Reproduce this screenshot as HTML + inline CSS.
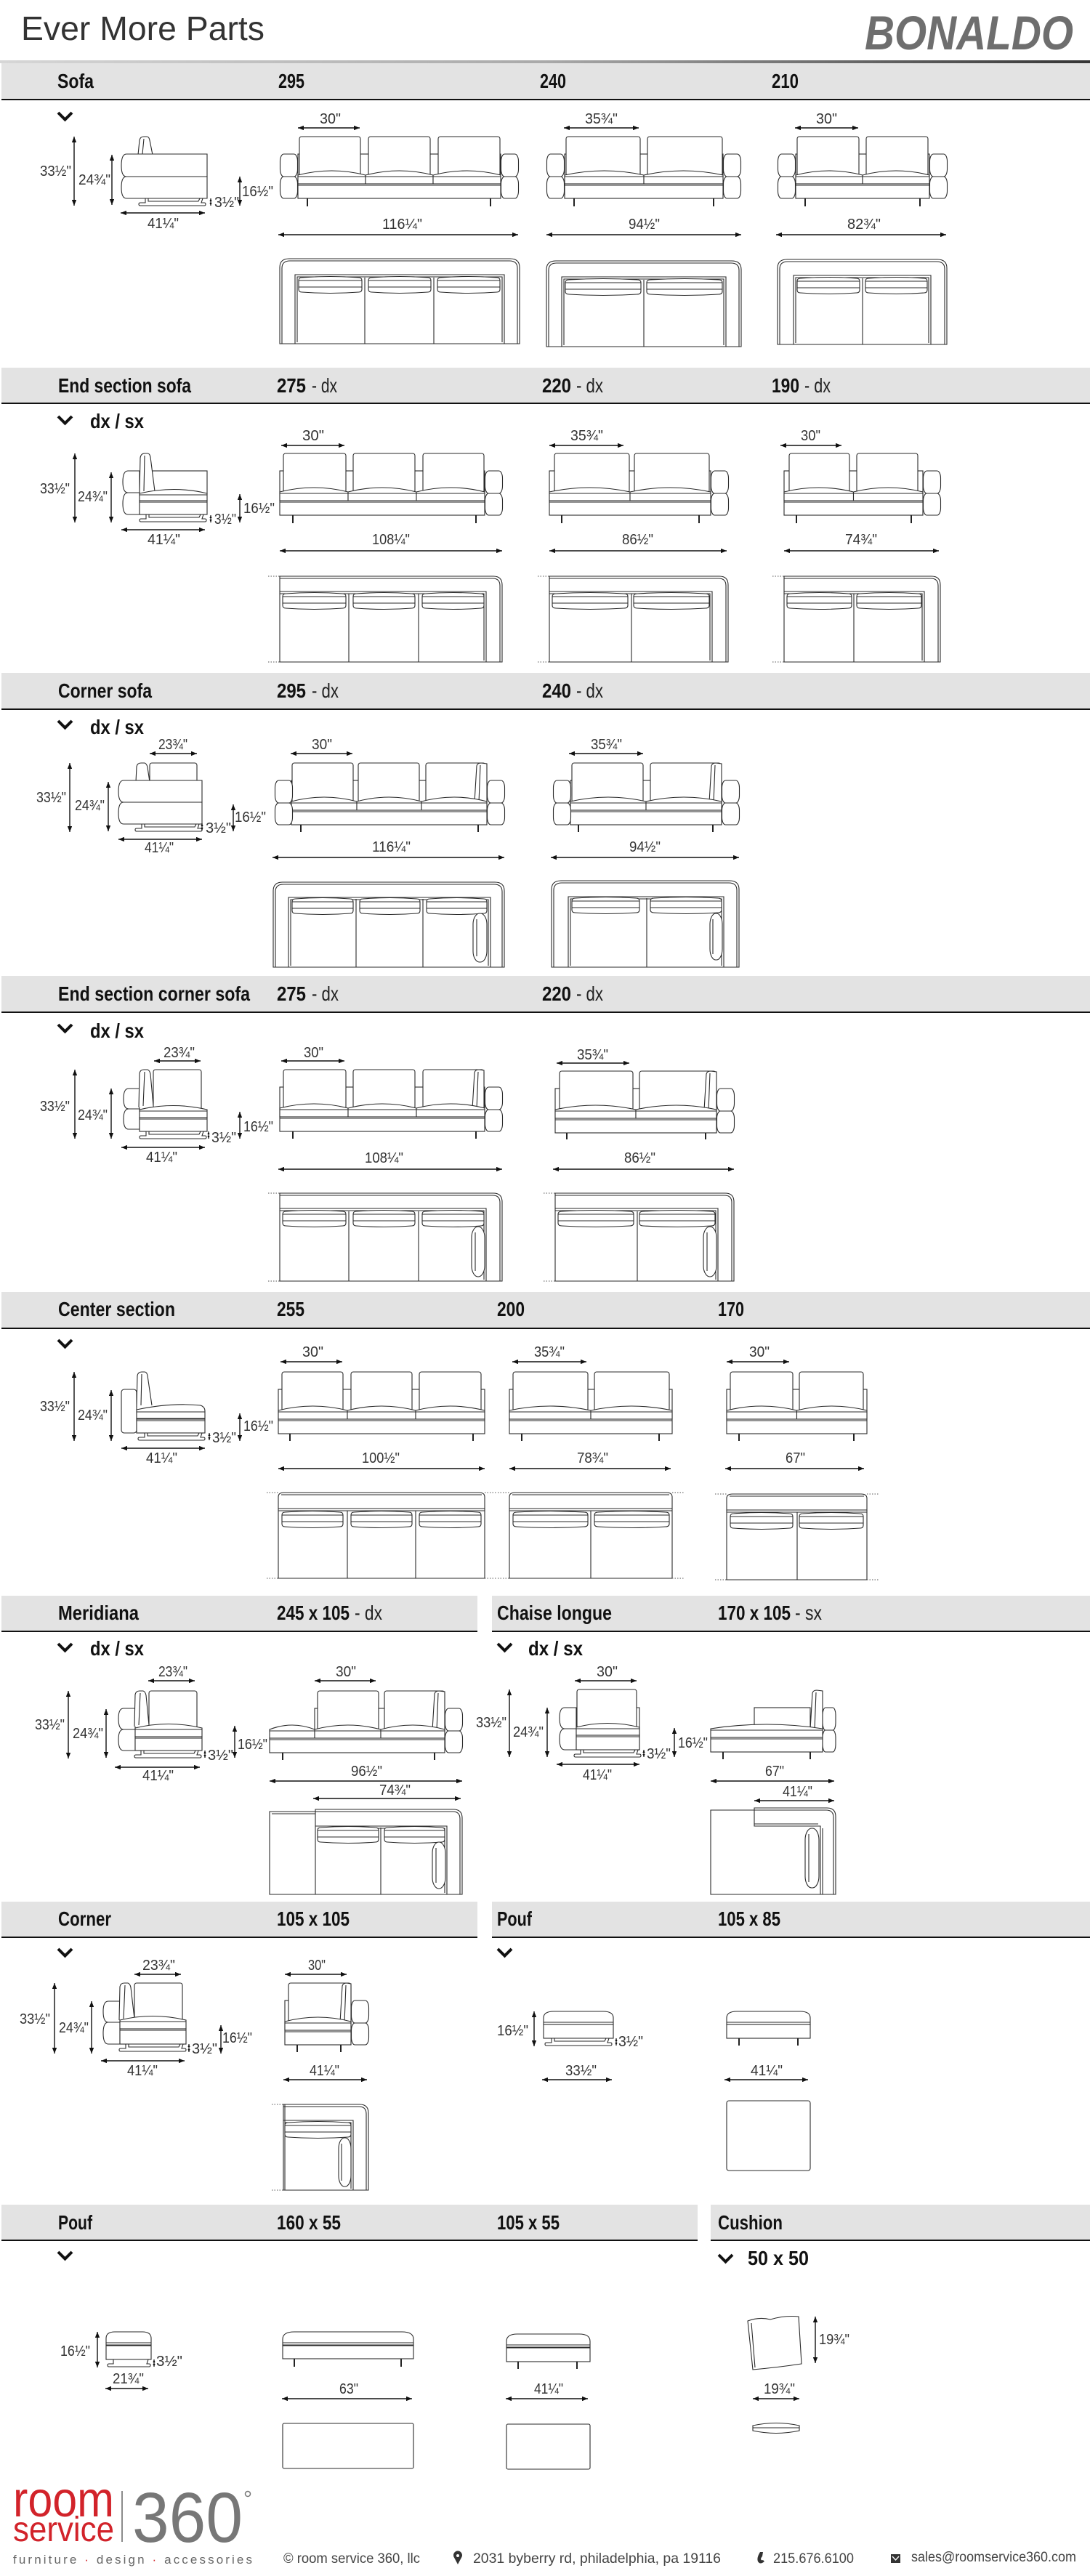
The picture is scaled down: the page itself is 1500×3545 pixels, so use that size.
<!DOCTYPE html>
<html><head><meta charset="utf-8"><style>
html,body{margin:0;padding:0;background:#fff}
svg{display:block}
.l{fill:none;stroke:#2a2a2a;stroke-width:1.1}
.w{fill:#fff;stroke:#2a2a2a;stroke-width:1.1}
.k{fill:none;stroke:#222;stroke-width:2}
.d{fill:none;stroke:#111;stroke-width:1.4;marker-start:url(#ah);marker-end:url(#ah)}
.ds{fill:none;stroke:#111;stroke-width:1.2;marker-start:url(#as);marker-end:url(#as)}
.dt{fill:none;stroke:#555;stroke-width:1;stroke-dasharray:1.5 2}
.t{font-family:"Liberation Sans Narrow","Liberation Sans",sans-serif;font-size:20px;fill:#333}
.hb{font-family:"Liberation Sans",sans-serif;font-weight:bold;font-size:28px;fill:#111}
.hn{font-family:"Liberation Sans Narrow","Liberation Sans",sans-serif;font-size:28px;fill:#222}
.bar{fill:#e3e3e3}
.bl{stroke:#111;stroke-width:2}
.cv{fill:none;stroke:#111;stroke-width:4}
.f{font-family:"Liberation Sans Narrow","Liberation Sans",sans-serif;font-size:19px;fill:#444}
</style></head><body>
<svg xmlns="http://www.w3.org/2000/svg" width="1500" height="3545" viewBox="0 0 1500 3545">
<defs>
<linearGradient id="gr" x1="0" x2="1" y1="0" y2="0"><stop offset="0" stop-color="#d6d6d6"/><stop offset="0.5" stop-color="#a9a9a9"/><stop offset="1" stop-color="#353535"/></linearGradient>
<marker id="ah" viewBox="0 0 10 8" refX="10" refY="4" markerWidth="8" markerHeight="6.4" orient="auto-start-reverse" markerUnits="userSpaceOnUse"><path d="M0,0 L10,4 L0,8 Z" fill="#111"/></marker>
<marker id="as" viewBox="0 0 10 8" refX="10" refY="4" markerWidth="4" markerHeight="3.5" orient="auto-start-reverse" markerUnits="userSpaceOnUse"><path d="M0,0 L10,4 L0,8 Z" fill="#111"/></marker>
<path id="seat" fill="#fff" stroke="#2a2a2a" stroke-width="1.1" vector-effect="non-scaling-stroke" d="M0,53 Q50,41 100,53 V65 H0 Z M0,55 H100"/>
<path id="cush" fill="#fff" stroke="#2a2a2a" stroke-width="1.1" vector-effect="non-scaling-stroke" d="M0,4 Q0,0 5,0 Q50,-3 95,0 Q100,0 100,4 V16 Q100,20 95,20 Q50,23 5,20 Q0,20 0,16 Z M0,13 H100 M0,4 H100"/>
<g id="arm"><rect x="0.5" y="0" width="24" height="31" rx="5" ry="10" fill="#fff" stroke="#2a2a2a" stroke-width="1.1"/><rect x="0.5" y="31" width="24" height="30" rx="5" ry="10" fill="#fff" stroke="#2a2a2a" stroke-width="1.1"/></g>
<path id="foot" fill="#fff" stroke="#2a2a2a" stroke-width="1.1" d="M9,0 V6 H2 Q0,6 0,8 Q0,10 2,10 H90 Q92,10 92,8 Q92,6 90,6 H86 L88,0 Z M13,0 V4 H82 L84,0"/>
</defs>

<!-- HEADER -->
<text x="29" y="55" font-family="Liberation Sans, sans-serif" font-size="46" fill="#333" textLength="335" lengthAdjust="spacingAndGlyphs">Ever More Parts</text>
<text x="1190" y="68" font-family="Liberation Sans, sans-serif" font-size="66" font-weight="bold" font-style="italic" fill="#6e6e6e" textLength="287" lengthAdjust="spacingAndGlyphs">BONALDO</text>
<rect x="0" y="83" width="1500" height="4" fill="url(#gr)"/>

<!-- ============ SECTION 1 SOFA ============ -->
<rect class="bar" x="2" y="87" width="1498" height="49"/><line class="bl" x1="2" y1="137" x2="1500" y2="137"/>
<text class="hb" x="79" y="121" textLength="50" lengthAdjust="spacingAndGlyphs">Sofa</text>
<text class="hb" x="383" y="121" textLength="36" lengthAdjust="spacingAndGlyphs">295</text>
<text class="hb" x="743" y="121" textLength="36" lengthAdjust="spacingAndGlyphs">240</text>
<text class="hb" x="1062" y="121" textLength="37" lengthAdjust="spacingAndGlyphs">210</text>
<path class="cv" d="M80,155 L89.5,164.5 L99,155"/>

<path class="w" d="M190,213 L192,193 Q193,188 198,188 H202 Q205,188 206,193 L210,213"/>
<path class="l" d="M196,212 L198,191"/>
<path class="w" d="M285,212 V243 H174 Q167,243 167,228 Q167,212 174,212 Z"/>
<path class="w" d="M285,243 V273 H174 Q167,273 167,258 Q167,243 174,243 Z"/>
<use href="#foot" x="191" y="273"/>

<g transform="translate(385,188)">
<rect class="w" x="25" y="24" width="279" height="40"/>
<rect class="w" x="27" y="0" width="84" height="54" rx="3"/>
<rect class="w" x="122" y="0" width="85" height="54" rx="3"/>
<rect class="w" x="218" y="0" width="85" height="54" rx="3"/>
<use href="#seat" transform="translate(25,0) scale(.93,1)"/>
<use href="#seat" transform="translate(118,0) scale(.93,1)"/>
<use href="#seat" transform="translate(211,0) scale(.93,1)"/>
<rect class="w" x="25" y="65" width="279" height="20"/><path class="l" d="M25,67H304"/>
<use href="#arm" x="0" y="24"/><use href="#arm" x="304" y="24"/>
<path class="k" d="M38,85v11M290,85v11"/>
</g>
<g transform="translate(752,188)">
<rect class="w" x="25" y="24" width="218" height="40"/>
<rect class="w" x="27" y="0" width="102" height="54" rx="3"/>
<rect class="w" x="139" y="0" width="103" height="54" rx="3"/>
<use href="#seat" transform="translate(25,0) scale(1.09,1)"/>
<use href="#seat" transform="translate(134,0) scale(1.09,1)"/>
<rect class="w" x="25" y="65" width="218" height="20"/><path class="l" d="M25,67H243"/>
<use href="#arm" x="0" y="24"/><use href="#arm" x="243" y="24"/>
<path class="k" d="M38,85v11M230,85v11"/>
</g>
<g transform="translate(1070,188)">
<rect class="w" x="25" y="24" width="184" height="40"/>
<rect class="w" x="27" y="0" width="85" height="54" rx="3"/>
<rect class="w" x="122" y="0" width="85" height="54" rx="3"/>
<use href="#seat" transform="translate(25,0) scale(.92,1)"/>
<use href="#seat" transform="translate(117,0) scale(.92,1)"/>
<rect class="w" x="25" y="65" width="184" height="20"/><path class="l" d="M25,67H209"/>
<use href="#arm" x="0" y="24"/><use href="#arm" x="209" y="24"/>
<path class="k" d="M38,85v11M196,85v11"/>
</g>
<g transform="translate(385,355)">
<path class="w" d="M0,118 V13 Q0,1 13,1 H317 Q330,1 330,13 V118 Z"/>
<path class="l" d="M3,118 V14 Q3,4 14,4 H316 Q327,4 327,14 V118"/>
<path class="l" d="M21,118 V23 H309 V118"/><path class="l" d="M24,116 V26 H306 V116"/>
<use href="#cush" transform="translate(26,27) scale(.87,1)"/>
<use href="#cush" transform="translate(122,27) scale(.86,1)"/>
<use href="#cush" transform="translate(217,27) scale(.86,1)"/>
<path class="l" d="M117,27V118M212,27V118"/>
</g>
<g transform="translate(752,358)">
<path class="w" d="M0,119 V13 Q0,1 13,1 H255 Q268,1 268,13 V119 Z"/>
<path class="l" d="M3,119 V14 Q3,4 14,4 H254 Q265,4 265,14 V119"/>
<path class="l" d="M21,119 V23 H247 V119"/><path class="l" d="M24,117 V26 H244 V117"/>
<use href="#cush" transform="translate(26,27) scale(1.04,1)"/>
<use href="#cush" transform="translate(138,27) scale(1.04,1)"/>
<path class="l" d="M134,27V119"/>
</g>
<g transform="translate(1070,356)">
<path class="w" d="M0,118 V13 Q0,1 13,1 H220 Q233,1 233,13 V118 Z"/>
<path class="l" d="M3,118 V14 Q3,4 14,4 H219 Q230,4 230,14 V118"/>
<path class="l" d="M22,118 V23 H211 V118"/><path class="l" d="M25,116 V26 H208 V116"/>
<use href="#cush" transform="translate(27,27) scale(.86,1)"/>
<use href="#cush" transform="translate(121,27) scale(.85,1)"/>
<path class="l" d="M117,27V118"/>
</g>
<path class="d" d="M102,188V283"/><path class="d" d="M154,213V282"/><path class="d" d="M330,243V283"/><path class="ds" d="M290,273V283"/>
<path class="d" d="M166,293H282"/><path class="d" d="M410,176H495"/><path class="d" d="M383,323H713"/>
<path class="d" d="M776,176H879"/><path class="d" d="M752,323H1020"/><path class="d" d="M1094,176H1181"/><path class="d" d="M1068,323H1302"/>
<text class="t" x="55" y="242" textLength="43" lengthAdjust="spacingAndGlyphs">33½"</text>
<text class="t" x="108" y="254" textLength="44" lengthAdjust="spacingAndGlyphs">24¾"</text>
<text class="t" x="333" y="270" textLength="43" lengthAdjust="spacingAndGlyphs">16½"</text>
<text class="t" x="295" y="285" textLength="34" lengthAdjust="spacingAndGlyphs">3½"</text>
<text class="t" x="203" y="314" textLength="43" lengthAdjust="spacingAndGlyphs">41¼"</text>
<text class="t" x="440" y="170" textLength="29" lengthAdjust="spacingAndGlyphs">30"</text>
<text class="t" x="526" y="315" textLength="55" lengthAdjust="spacingAndGlyphs">116¼"</text>
<text class="t" x="805" y="170" textLength="45" lengthAdjust="spacingAndGlyphs">35¾"</text>
<text class="t" x="865" y="315" textLength="43" lengthAdjust="spacingAndGlyphs">94½"</text>
<text class="t" x="1123" y="170" textLength="29" lengthAdjust="spacingAndGlyphs">30"</text>
<text class="t" x="1166" y="315" textLength="46" lengthAdjust="spacingAndGlyphs">82¾"</text>

<!-- ============ SECTION 2 END SECTION SOFA ============ -->
<rect class="bar" x="2" y="506" width="1498" height="49"/><line class="bl" x1="2" y1="555" x2="1500" y2="555"/>
<text class="hb" x="80" y="540" textLength="183" lengthAdjust="spacingAndGlyphs">End section sofa</text>
<text class="hb" x="381" y="540" textLength="40" lengthAdjust="spacingAndGlyphs">275</text><text class="hn" x="429" y="540" textLength="35" lengthAdjust="spacingAndGlyphs">- dx</text>
<text class="hb" x="746" y="540" textLength="40" lengthAdjust="spacingAndGlyphs">220</text><text class="hn" x="793" y="540" textLength="37" lengthAdjust="spacingAndGlyphs">- dx</text>
<text class="hb" x="1062" y="540" textLength="38" lengthAdjust="spacingAndGlyphs">190</text><text class="hn" x="1107" y="540" textLength="36" lengthAdjust="spacingAndGlyphs">- dx</text>
<path class="cv" d="M80,573 L89.5,582.5 L99,573"/>
<text class="hb" x="124" y="589" font-size="27" textLength="74" lengthAdjust="spacingAndGlyphs">dx / sx</text>

<path class="w" d="M192,648 V678 H176 Q169,678 169,663 Q169,648 176,648 Z"/>
<path class="w" d="M192,678 V708 H176 Q169,708 169,693 Q169,678 176,678 Z"/>
<rect class="w" x="206" y="648" width="79" height="32"/>
<path class="w" d="M192,678 L193,630 Q194,624 199,624 H203 Q206,624 207,629 L213,676"/>
<path class="l" d="M198,676 L199,627"/>
<path class="w" d="M192,679 Q240,668 285,679 V689 H192 Z"/><path class="l" d="M192,681H285"/>
<rect class="w" x="192" y="689" width="93" height="19"/><path class="l" d="M192,691H285"/>
<use href="#foot" x="192" y="708"/>

<g transform="translate(385,624)">
<rect class="w" x="0" y="24" width="282" height="40"/>
<rect class="w" x="5" y="0" width="86" height="54" rx="3"/>
<rect class="w" x="101" y="0" width="85" height="54" rx="3"/>
<rect class="w" x="197" y="0" width="84" height="54" rx="3"/>
<use href="#seat" transform="translate(0,0) scale(.94,1)"/>
<use href="#seat" transform="translate(94,0) scale(.94,1)"/>
<use href="#seat" transform="translate(188,0) scale(.94,1)"/>
<rect class="w" x="0" y="65" width="282" height="20"/><path class="l" d="M0,67H282"/>
<use href="#arm" x="282" y="24"/>
<path class="k" d="M18,85v11M270,85v11"/>
</g>
<g transform="translate(756,624)">
<rect class="w" x="0" y="24" width="222" height="40"/>
<rect class="w" x="7" y="0" width="103" height="54" rx="3"/>
<rect class="w" x="117" y="0" width="103" height="54" rx="3"/>
<use href="#seat" transform="translate(0,0) scale(1.11,1)"/>
<use href="#seat" transform="translate(111,0) scale(1.11,1)"/>
<rect class="w" x="0" y="65" width="222" height="20"/><path class="l" d="M0,67H222"/>
<use href="#arm" x="222" y="24"/>
<path class="k" d="M17,85v11M206,85v11"/>
</g>
<g transform="translate(1079,624)">
<rect class="w" x="0" y="24" width="191" height="40"/>
<rect class="w" x="7" y="0" width="83" height="54" rx="3"/>
<rect class="w" x="100" y="0" width="84" height="54" rx="3"/>
<use href="#seat" transform="translate(0,0) scale(.955,1)"/>
<use href="#seat" transform="translate(95.5,0) scale(.955,1)"/>
<rect class="w" x="0" y="65" width="191" height="20"/><path class="l" d="M0,67H191"/>
<use href="#arm" x="191" y="24"/>
<path class="k" d="M17,85v11M175,85v11"/>
</g>
<g transform="translate(385,793)">
<path class="w" d="M0,118 V0 H294 Q306,0 306,12 V118 Z"/>
<path class="l" d="M0,3 H293 Q303,3 303,13 V118"/>
<path class="l" d="M0,21 H284 V118"/><path class="l" d="M0,24 H281 V116"/>
<use href="#cush" transform="translate(4,24) scale(.87,1)"/>
<use href="#cush" transform="translate(101,24) scale(.85,1)"/>
<use href="#cush" transform="translate(196,24) scale(.85,1)"/>
<path class="l" d="M95,24V118M191,24V118"/>
<path class="dt" d="M-16,0H0M-16,118H0"/>
</g>
<g transform="translate(756,793)">
<path class="w" d="M0,118 V0 H234 Q246,0 246,12 V118 Z"/>
<path class="l" d="M0,3 H233 Q243,3 243,13 V118"/>
<path class="l" d="M0,21 H224 V118"/><path class="l" d="M0,24 H221 V116"/>
<use href="#cush" transform="translate(4,24) scale(1.04,1)"/>
<use href="#cush" transform="translate(116,24) scale(1.04,1)"/>
<path class="l" d="M113,24V118"/>
<path class="dt" d="M-16,0H0M-16,118H0"/>
</g>
<g transform="translate(1079,793)">
<path class="w" d="M0,118 V0 H203 Q215,0 215,12 V118 Z"/>
<path class="l" d="M0,3 H202 Q212,3 212,13 V118"/>
<path class="l" d="M0,21 H193 V118"/><path class="l" d="M0,24 H190 V116"/>
<use href="#cush" transform="translate(4,24) scale(.89,1)"/>
<use href="#cush" transform="translate(100,24) scale(.89,1)"/>
<path class="l" d="M96,24V118"/>
<path class="dt" d="M-16,0H0M-16,118H0"/>
</g>
<path class="d" d="M103,624V719"/><path class="d" d="M153,650V719"/><path class="d" d="M330,680V719"/><path class="ds" d="M290,709V719"/>
<path class="d" d="M167,729H282"/><path class="d" d="M387,613H474"/><path class="d" d="M385,758H691"/>
<path class="d" d="M756,613H858"/><path class="d" d="M756,758H1000"/><path class="d" d="M1074,613H1158"/><path class="d" d="M1079,758H1292"/>
<text class="t" x="55" y="679" textLength="41" lengthAdjust="spacingAndGlyphs">33½"</text>
<text class="t" x="107" y="690" textLength="41" lengthAdjust="spacingAndGlyphs">24¾"</text>
<text class="t" x="335" y="706" textLength="43" lengthAdjust="spacingAndGlyphs">16½"</text>
<text class="t" x="295" y="721" textLength="30" lengthAdjust="spacingAndGlyphs">3½"</text>
<text class="t" x="203" y="749" textLength="45" lengthAdjust="spacingAndGlyphs">41¼"</text>
<text class="t" x="416" y="606" textLength="30" lengthAdjust="spacingAndGlyphs">30"</text>
<text class="t" x="512" y="749" textLength="52" lengthAdjust="spacingAndGlyphs">108¼"</text>
<text class="t" x="785" y="606" textLength="45" lengthAdjust="spacingAndGlyphs">35¾"</text>
<text class="t" x="856" y="749" textLength="43" lengthAdjust="spacingAndGlyphs">86½"</text>
<text class="t" x="1102" y="606" textLength="27" lengthAdjust="spacingAndGlyphs">30"</text>
<text class="t" x="1163" y="749" textLength="44" lengthAdjust="spacingAndGlyphs">74¾"</text>

<!-- ============ SECTION 3 CORNER SOFA ============ -->
<rect class="bar" x="2" y="926" width="1498" height="49"/><line class="bl" x1="2" y1="976" x2="1500" y2="976"/>
<text class="hb" x="80" y="960" textLength="129" lengthAdjust="spacingAndGlyphs">Corner sofa</text>
<text class="hb" x="381" y="960" textLength="40" lengthAdjust="spacingAndGlyphs">295</text><text class="hn" x="429" y="960" textLength="37" lengthAdjust="spacingAndGlyphs">- dx</text>
<text class="hb" x="746" y="960" textLength="40" lengthAdjust="spacingAndGlyphs">240</text><text class="hn" x="793" y="960" textLength="37" lengthAdjust="spacingAndGlyphs">- dx</text>
<path class="cv" d="M80,992 L89.5,1001.5 L99,992"/>
<text class="hb" x="124" y="1010" font-size="27" textLength="74" lengthAdjust="spacingAndGlyphs">dx / sx</text>

<path class="w" d="M187,1076 L188,1055 Q189,1050 194,1050 H199 Q202,1051 203,1056 L206,1076"/>
<rect class="w" x="206" y="1050" width="65" height="28" rx="3"/>
<path class="w" d="M278,1074 V1104 H170 Q163,1104 163,1089 Q163,1074 170,1074 Z"/>
<path class="w" d="M278,1104 V1134 H170 Q163,1134 163,1119 Q163,1104 170,1104 Z"/>
<use href="#foot" x="186" y="1134"/>

<g transform="translate(378,1050)">
<rect class="w" x="23" y="24" width="269" height="40"/>
<rect class="w" x="24" y="0" width="84" height="54" rx="3"/>
<rect class="w" x="115" y="0" width="84" height="54" rx="3"/>
<rect class="w" x="208" y="0" width="82" height="54" rx="3"/>
<path class="w" d="M275,54 L278,4 Q279,0 284,0 L292,1 V54 Z"/><path class="l" d="M281,54 L283,3"/>
<use href="#seat" transform="translate(23,0) scale(.9,1)"/>
<use href="#seat" transform="translate(113,0) scale(.89,1)"/>
<use href="#seat" transform="translate(202,0) scale(.9,1)"/>
<rect class="w" x="23" y="65" width="269" height="20"/><path class="l" d="M23,67H292"/>
<use href="#arm" x="0" y="24"/><use href="#arm" x="292" y="24"/>
<path class="k" d="M36,85v10M280,85v10"/>
</g>
<g transform="translate(761,1050)">
<rect class="w" x="24" y="24" width="208" height="40"/>
<rect class="w" x="26" y="0" width="98" height="54" rx="3"/>
<rect class="w" x="134" y="0" width="97" height="54" rx="3"/>
<path class="w" d="M215,54 L218,4 Q219,0 224,0 L232,1 V54 Z"/><path class="l" d="M221,54 L223,3"/>
<use href="#seat" transform="translate(24,0) scale(1.04,1)"/>
<use href="#seat" transform="translate(128,0) scale(1.04,1)"/>
<rect class="w" x="24" y="65" width="208" height="20"/><path class="l" d="M24,67H232"/>
<use href="#arm" x="0" y="24"/><use href="#arm" x="232" y="24"/>
<path class="k" d="M35,85v10M220,85v10"/>
</g>
<g transform="translate(376,1213)">
<path class="w" d="M0,118 V13 Q0,1 13,1 H305 Q318,1 318,13 V118 Z"/>
<path class="l" d="M3,118 V14 Q3,4 14,4 H304 Q315,4 315,14 V118"/>
<path class="l" d="M21,118 V22 H299 V118"/><path class="l" d="M24,116 V25 H296 V116"/>
<use href="#cush" transform="translate(26,24) scale(.84,1)"/>
<use href="#cush" transform="translate(119,24) scale(.83,1)"/>
<use href="#cush" transform="translate(211,24) scale(.83,1)"/>
<path class="l" d="M114,24V118M206,24V118"/>
<rect class="w" x="275" y="44" width="19" height="67" rx="9" ry="15"/><path class="l" d="M280,52V103"/>
</g>
<g transform="translate(759,1211)">
<path class="w" d="M0,120 V13 Q0,1 13,1 H245 Q258,1 258,13 V120 Z"/>
<path class="l" d="M3,120 V14 Q3,4 14,4 H244 Q255,4 255,14 V120"/>
<path class="l" d="M23,120 V23 H237 V120"/><path class="l" d="M26,118 V26 H234 V118"/>
<use href="#cush" transform="translate(28,25) scale(.93,1)"/>
<use href="#cush" transform="translate(136,25) scale(.98,1)"/>
<path class="l" d="M131,25V120"/>
<rect class="w" x="218" y="46" width="17" height="64" rx="8" ry="15"/><path class="l" d="M222,54V102"/>
</g>
<path class="d" d="M206,1037H271"/><path class="d" d="M96,1050V1145"/><path class="d" d="M149,1076V1144"/><path class="d" d="M321,1107V1144"/><path class="ds" d="M278,1133V1143"/>
<path class="d" d="M163,1155H278"/><path class="d" d="M400,1037H485"/><path class="d" d="M375,1180H694"/>
<path class="d" d="M783,1037H885"/><path class="d" d="M758,1180H1017"/>
<text class="t" x="218" y="1031" textLength="40" lengthAdjust="spacingAndGlyphs">23¾"</text>
<text class="t" x="50" y="1104" textLength="41" lengthAdjust="spacingAndGlyphs">33½"</text>
<text class="t" x="103" y="1115" textLength="41" lengthAdjust="spacingAndGlyphs">24¾"</text>
<text class="t" x="323" y="1131" textLength="43" lengthAdjust="spacingAndGlyphs">16½"</text>
<text class="t" x="283" y="1146" textLength="35" lengthAdjust="spacingAndGlyphs">3½"</text>
<text class="t" x="199" y="1173" textLength="40" lengthAdjust="spacingAndGlyphs">41¼"</text>
<text class="t" x="429" y="1031" textLength="28" lengthAdjust="spacingAndGlyphs">30"</text>
<text class="t" x="512" y="1172" textLength="53" lengthAdjust="spacingAndGlyphs">116¼"</text>
<text class="t" x="813" y="1031" textLength="43" lengthAdjust="spacingAndGlyphs">35¾"</text>
<text class="t" x="866" y="1172" textLength="43" lengthAdjust="spacingAndGlyphs">94½"</text>

<!-- ============ SECTION 4 END SECTION CORNER ============ -->
<rect class="bar" x="2" y="1343" width="1498" height="49"/><line class="bl" x1="2" y1="1393" x2="1500" y2="1393"/>
<text class="hb" x="80" y="1377" textLength="264" lengthAdjust="spacingAndGlyphs">End section corner sofa</text>
<text class="hb" x="381" y="1377" textLength="40" lengthAdjust="spacingAndGlyphs">275</text><text class="hn" x="429" y="1377" textLength="37" lengthAdjust="spacingAndGlyphs">- dx</text>
<text class="hb" x="746" y="1377" textLength="40" lengthAdjust="spacingAndGlyphs">220</text><text class="hn" x="793" y="1377" textLength="37" lengthAdjust="spacingAndGlyphs">- dx</text>
<path class="cv" d="M80,1410 L89.5,1419.5 L99,1410"/>
<text class="hb" x="124" y="1428" font-size="27" textLength="74" lengthAdjust="spacingAndGlyphs">dx / sx</text>

<path class="w" d="M192,1498 V1526 H177 Q170,1526 170,1512 Q170,1498 177,1498 Z"/>
<path class="w" d="M192,1526 V1554 H177 Q170,1554 170,1540 Q170,1526 177,1526 Z"/>
<rect class="w" x="211" y="1472" width="66" height="56" rx="3"/>
<path class="w" d="M191,1524 L192,1477 Q193,1472 198,1472 H203 Q206,1473 207,1478 L211,1522"/>
<path class="l" d="M197,1522 L199,1475"/>
<path class="w" d="M192,1527 Q238,1516 285,1527 V1538 H192 Z"/><path class="l" d="M192,1529H285"/>
<rect class="w" x="192" y="1538" width="93" height="19"/><path class="l" d="M192,1540H285"/>
<use href="#foot" x="192" y="1557"/>

<g transform="translate(385,1472)">
<rect class="w" x="0" y="24" width="282" height="40"/>
<rect class="w" x="5" y="0" width="86" height="54" rx="3"/>
<rect class="w" x="101" y="0" width="85" height="54" rx="3"/>
<rect class="w" x="197" y="0" width="84" height="54" rx="3"/>
<path class="w" d="M265,54 L268,4 Q269,0 274,0 L281,1 V54 Z"/><path class="l" d="M271,54 L273,3"/>
<use href="#seat" transform="translate(0,0) scale(.94,1)"/>
<use href="#seat" transform="translate(94,0) scale(.94,1)"/>
<use href="#seat" transform="translate(188,0) scale(.94,1)"/>
<rect class="w" x="0" y="65" width="282" height="20"/><path class="l" d="M0,67H282"/>
<use href="#arm" x="282" y="24"/>
<path class="k" d="M18,85v10M270,85v10"/>
</g>
<g transform="translate(764,1474)">
<rect class="w" x="0" y="24" width="222" height="40"/>
<rect class="w" x="6" y="0" width="101" height="54" rx="3"/>
<rect class="w" x="116" y="0" width="105" height="54" rx="3"/>
<path class="w" d="M205,54 L208,4 Q209,0 214,0 L222,1 V54 Z"/><path class="l" d="M211,54 L213,3"/>
<use href="#seat" transform="translate(0,0) scale(1.11,1)"/>
<use href="#seat" transform="translate(111,0) scale(1.11,1)"/>
<rect class="w" x="0" y="65" width="222" height="20"/><path class="l" d="M0,67H222"/>
<use href="#arm" x="222" y="24"/>
<path class="k" d="M16,85v9M207,85v9"/>
</g>
<g transform="translate(385,1642)">
<path class="w" d="M0,121 V0 H294 Q306,0 306,12 V121 Z"/>
<path class="l" d="M0,3 H293 Q303,3 303,13 V121"/>
<path class="l" d="M0,21 H284 V121"/><path class="l" d="M0,24 H281 V119"/>
<use href="#cush" transform="translate(4,25) scale(.87,1)"/>
<use href="#cush" transform="translate(101,25) scale(.85,1)"/>
<use href="#cush" transform="translate(196,25) scale(.85,1)"/>
<path class="l" d="M95,25V121M191,25V121"/>
<rect class="w" x="264" y="46" width="18" height="69" rx="9" ry="15"/><path class="l" d="M269,54V107"/>
<path class="dt" d="M-16,0H0M-16,121H0"/>
</g>
<g transform="translate(764,1642)">
<path class="w" d="M0,121 V0 H234 Q246,0 246,12 V121 Z"/>
<path class="l" d="M0,3 H233 Q243,3 243,13 V121"/>
<path class="l" d="M0,21 H224 V121"/><path class="l" d="M0,24 H221 V119"/>
<use href="#cush" transform="translate(4,25) scale(1.04,1)"/>
<use href="#cush" transform="translate(116,25) scale(1.04,1)"/>
<path class="l" d="M113,25V121"/>
<rect class="w" x="204" y="46" width="18" height="69" rx="9" ry="15"/><path class="l" d="M209,54V107"/>
<path class="dt" d="M-16,0H0M-16,121H0"/>
</g>
<path class="d" d="M212,1460H276"/><path class="d" d="M103,1472V1567"/><path class="d" d="M153,1498V1567"/><path class="d" d="M330,1530V1567"/><path class="ds" d="M287,1557V1567"/>
<path class="d" d="M167,1579H282"/><path class="d" d="M387,1460H474"/><path class="d" d="M383,1609H691"/>
<path class="d" d="M766,1463H866"/><path class="d" d="M761,1609H1010"/>
<text class="t" x="225" y="1455" textLength="43" lengthAdjust="spacingAndGlyphs">23¾"</text>
<text class="t" x="55" y="1529" textLength="41" lengthAdjust="spacingAndGlyphs">33½"</text>
<text class="t" x="107" y="1541" textLength="41" lengthAdjust="spacingAndGlyphs">24¾"</text>
<text class="t" x="335" y="1557" textLength="41" lengthAdjust="spacingAndGlyphs">16½"</text>
<text class="t" x="291" y="1572" textLength="34" lengthAdjust="spacingAndGlyphs">3½"</text>
<text class="t" x="201" y="1599" textLength="43" lengthAdjust="spacingAndGlyphs">41¼"</text>
<text class="t" x="418" y="1455" textLength="27" lengthAdjust="spacingAndGlyphs">30"</text>
<text class="t" x="502" y="1600" textLength="53" lengthAdjust="spacingAndGlyphs">108¼"</text>
<text class="t" x="794" y="1458" textLength="43" lengthAdjust="spacingAndGlyphs">35¾"</text>
<text class="t" x="859" y="1600" textLength="43" lengthAdjust="spacingAndGlyphs">86½"</text>

<!-- ============ SECTION 5 CENTER ============ -->
<rect class="bar" x="2" y="1778" width="1498" height="49"/><line class="bl" x1="2" y1="1828" x2="1500" y2="1828"/>
<text class="hb" x="80" y="1811" textLength="161" lengthAdjust="spacingAndGlyphs">Center section</text>
<text class="hb" x="381" y="1811" textLength="38" lengthAdjust="spacingAndGlyphs">255</text>
<text class="hb" x="684" y="1811" textLength="38" lengthAdjust="spacingAndGlyphs">200</text>
<text class="hb" x="988" y="1811" textLength="36" lengthAdjust="spacingAndGlyphs">170</text>
<path class="cv" d="M80,1844 L89.5,1853.5 L99,1844"/>

<rect class="w" x="167" y="1912" width="21" height="60" rx="4"/>
<path class="w" d="M188,1936 L189,1893 Q190,1888 195,1888 H199 Q202,1888 203,1893 L209,1934"/>
<path class="l" d="M194,1934 L195,1891"/>
<path class="w" d="M188,1940 Q235,1930 276,1934 Q282,1936 282,1942 V1952 H188 Z"/><path class="l" d="M188,1943H282"/>
<rect class="w" x="188" y="1953" width="94" height="19"/><path class="l" d="M188,1955H282"/>
<use href="#foot" x="190" y="1972"/>

<g transform="translate(383,1888)">
<rect class="w" x="0" y="24" width="284" height="40"/>
<rect class="w" x="5" y="0" width="84" height="54" rx="3"/>
<rect class="w" x="100" y="0" width="84" height="54" rx="3"/>
<rect class="w" x="194" y="0" width="85" height="54" rx="3"/>
<use href="#seat" transform="translate(0,0) scale(.95,1)"/>
<use href="#seat" transform="translate(95,0) scale(.94,1)"/>
<use href="#seat" transform="translate(189,0) scale(.95,1)"/>
<rect class="w" x="0" y="65" width="284" height="20"/><path class="l" d="M0,67H284"/>
<path class="k" d="M16,85v10M268,85v10"/>
</g>
<g transform="translate(701,1888)">
<rect class="w" x="0" y="24" width="224" height="40"/>
<rect class="w" x="5" y="0" width="103" height="54" rx="3"/>
<rect class="w" x="117" y="0" width="103" height="54" rx="3"/>
<use href="#seat" transform="translate(0,0) scale(1.12,1)"/>
<use href="#seat" transform="translate(112,0) scale(1.12,1)"/>
<rect class="w" x="0" y="65" width="224" height="20"/><path class="l" d="M0,67H224"/>
<path class="k" d="M17,85v10M206,85v10"/>
</g>
<g transform="translate(1000,1888)">
<rect class="w" x="0" y="24" width="193" height="40"/>
<rect class="w" x="5" y="0" width="86" height="54" rx="3"/>
<rect class="w" x="100" y="0" width="88" height="54" rx="3"/>
<use href="#seat" transform="translate(0,0) scale(.965,1)"/>
<use href="#seat" transform="translate(96.5,0) scale(.965,1)"/>
<rect class="w" x="0" y="65" width="193" height="20"/><path class="l" d="M0,67H193"/>
<path class="k" d="M17,85v10M175,85v10"/>
</g>
<g transform="translate(383,2054)">
<path class="l" d="M0,22 V118 H284 V22"/>
<path class="w" d="M0,22 V6 Q0,0 8,0 H276 Q284,0 284,6 V22 Z"/><path class="l" d="M4,3H280M0,25H284"/>
<use href="#cush" transform="translate(5,27) scale(.84,1)"/>
<use href="#cush" transform="translate(100,27) scale(.84,1)"/>
<use href="#cush" transform="translate(194,27) scale(.85,1)"/>
<path class="l" d="M95,25V118M189,25V118"/>
<path class="dt" d="M-16,0H0M284,0H300M-16,118H0M284,118H300"/>
</g>
<g transform="translate(701,2054)">
<path class="l" d="M0,22 V118 H224 V22"/>
<path class="w" d="M0,22 V6 Q0,0 8,0 H216 Q224,0 224,6 V22 Z"/><path class="l" d="M4,3H220M0,25H224"/>
<use href="#cush" transform="translate(5,27) scale(1.03,1)"/>
<use href="#cush" transform="translate(117,27) scale(1.03,1)"/>
<path class="l" d="M112,25V118"/>
<path class="dt" d="M-16,0H0M224,0H240M-16,118H0M224,118H240"/>
</g>
<g transform="translate(1000,2056)">
<path class="l" d="M0,22 V118 H193 V22"/>
<path class="w" d="M0,22 V6 Q0,0 8,0 H185 Q193,0 193,6 V22 Z"/><path class="l" d="M4,3H189M0,25H193"/>
<use href="#cush" transform="translate(5,27) scale(.86,1)"/>
<use href="#cush" transform="translate(100,27) scale(.88,1)"/>
<path class="l" d="M97,25V118"/>
<path class="dt" d="M-16,0H0M193,0H209M-16,118H0M193,118H209"/>
</g>
<path class="d" d="M102,1888V1983"/><path class="d" d="M153,1913V1983"/><path class="d" d="M330,1945V1983"/><path class="ds" d="M288,1972V1982"/>
<path class="d" d="M167,1993H282"/><path class="d" d="M386,1874H471"/><path class="d" d="M383,2021H667"/>
<path class="d" d="M705,1874H807"/><path class="d" d="M701,2021H923"/><path class="d" d="M1000,1874H1086"/><path class="d" d="M998,2021H1189"/>
<text class="t" x="55" y="1942" textLength="41" lengthAdjust="spacingAndGlyphs">33½"</text>
<text class="t" x="107" y="1954" textLength="41" lengthAdjust="spacingAndGlyphs">24¾"</text>
<text class="t" x="335" y="1969" textLength="41" lengthAdjust="spacingAndGlyphs">16½"</text>
<text class="t" x="292" y="1985" textLength="33" lengthAdjust="spacingAndGlyphs">3½"</text>
<text class="t" x="201" y="2013" textLength="43" lengthAdjust="spacingAndGlyphs">41¼"</text>
<text class="t" x="416" y="1867" textLength="29" lengthAdjust="spacingAndGlyphs">30"</text>
<text class="t" x="498" y="2013" textLength="52" lengthAdjust="spacingAndGlyphs">100½"</text>
<text class="t" x="735" y="1867" textLength="42" lengthAdjust="spacingAndGlyphs">35¾"</text>
<text class="t" x="794" y="2013" textLength="43" lengthAdjust="spacingAndGlyphs">78¾"</text>
<text class="t" x="1031" y="1867" textLength="28" lengthAdjust="spacingAndGlyphs">30"</text>
<text class="t" x="1081" y="2013" textLength="27" lengthAdjust="spacingAndGlyphs">67"</text>

<!-- ============ SECTION 6 MERIDIANA / CHAISE ============ -->
<rect class="bar" x="2" y="2196" width="655" height="49"/><line class="bl" x1="2" y1="2245" x2="657" y2="2245"/>
<rect class="bar" x="677" y="2196" width="823" height="49"/><line class="bl" x1="677" y1="2245" x2="1500" y2="2245"/>
<text class="hb" x="80" y="2229" textLength="111" lengthAdjust="spacingAndGlyphs">Meridiana</text>
<text class="hb" x="381" y="2229" textLength="100" lengthAdjust="spacingAndGlyphs">245 x 105</text><text class="hn" x="488" y="2229" textLength="38" lengthAdjust="spacingAndGlyphs">- dx</text>
<text class="hb" x="684" y="2229" textLength="158" lengthAdjust="spacingAndGlyphs">Chaise longue</text>
<text class="hb" x="988" y="2229" textLength="100" lengthAdjust="spacingAndGlyphs">170 x 105</text><text class="hn" x="1094" y="2229" textLength="37" lengthAdjust="spacingAndGlyphs">- sx</text>
<path class="cv" d="M80,2262 L89.5,2271.5 L99,2262"/>
<text class="hb" x="124" y="2278" font-size="27" textLength="74" lengthAdjust="spacingAndGlyphs">dx / sx</text>
<path class="cv" d="M685,2262 L694.5,2271.5 L704,2262"/>
<text class="hb" x="727" y="2278" font-size="27" textLength="75" lengthAdjust="spacingAndGlyphs">dx / sx</text>

<path class="w" d="M186,2351 V2380 H170 Q163,2380 163,2365 Q163,2351 170,2351 Z"/>
<path class="w" d="M186,2380 V2409 H170 Q163,2409 163,2394 Q163,2380 170,2380 Z"/>
<rect class="w" x="205" y="2327" width="66" height="52" rx="3"/>
<path class="w" d="M185,2376 L186,2332 Q187,2327 192,2327 H197 Q200,2328 201,2333 L205,2374"/>
<path class="l" d="M191,2374 L193,2330"/>
<path class="w" d="M186,2378 Q232,2367 278,2378 V2390 H186 Z"/><path class="l" d="M186,2380H278"/>
<rect class="w" x="186" y="2390" width="92" height="19"/><path class="l" d="M186,2392H278"/>
<use href="#foot" x="185" y="2409"/>
<g transform="translate(371,2327)">
<rect class="w" x="62" y="24" width="179" height="40"/>
<rect class="w" x="66" y="0" width="84" height="54" rx="3"/>
<rect class="w" x="158" y="0" width="83" height="54" rx="3"/>
<path class="w" d="M224,54 L227,4 Q228,0 233,0 L241,1 V54 Z"/><path class="l" d="M230,54 L232,3"/>
<use href="#seat" transform="translate(0,0) scale(.62,1)"/>
<use href="#seat" transform="translate(62,0) scale(.91,1)"/>
<use href="#seat" transform="translate(153,0) scale(.88,1)"/>
<rect class="w" x="0" y="65" width="241" height="20"/><path class="l" d="M0,67H241"/>
<use href="#arm" x="241" y="24"/>
<path class="k" d="M18,85v10M227,85v10"/>
</g>
<path class="w" d="M793,2350 V2379 H777 Q770,2379 770,2364 Q770,2350 777,2350 Z"/>
<path class="w" d="M793,2379 V2408 H777 Q770,2408 770,2393 Q770,2379 777,2379 Z"/>
<rect class="w" x="794" y="2325" width="82" height="53" rx="3"/>
<path class="l" d="M876,2350 H880 V2408"/>
<path class="w" d="M793,2377 Q836,2366 880,2377 V2388 H793 Z"/><path class="l" d="M793,2379H880"/>
<rect class="w" x="793" y="2388" width="87" height="20"/><path class="l" d="M793,2390H880"/>
<use href="#foot" x="790" y="2408"/>
<g transform="translate(978,2326)">
<rect class="w" x="60" y="24" width="77" height="40"/>
<path class="w" d="M137,54 L140,4 Q141,0 146,0 L154,1 V54 Z"/><path class="l" d="M143,54 L145,3"/>
<use href="#seat" transform="translate(0,0) scale(1.54,1)"/>
<rect class="w" x="0" y="65" width="154" height="20"/><path class="l" d="M0,67H154"/>
<rect class="w" x="154" y="24" width="18" height="31" rx="4" ry="10"/><rect class="w" x="154" y="55" width="18" height="30" rx="4" ry="10"/>
<path class="k" d="M17,85v10M137,85v10"/>
</g>
<g transform="translate(371,2490)">
<path class="l" d="M63,3 H0 V117 H265"/><path class="l" d="M63,6 H3"/>
<path class="w" d="M63,117 V0 H253 Q265,0 265,12 V117 Z"/>
<path class="l" d="M63,3 H252 Q262,3 262,13 V117"/>
<path class="l" d="M63,23 H244 V117"/><path class="l" d="M66,26 H241 V115"/>
<use href="#cush" transform="translate(66,25) scale(.84,1)"/>
<use href="#cush" transform="translate(158,25) scale(.83,1)"/>
<path class="l" d="M153,25V117"/>
<rect class="w" x="224" y="45" width="18" height="64" rx="9" ry="15"/><path class="l" d="M229,53V101"/>
</g>
<g transform="translate(978,2488)">
<path class="l" d="M60,3 H0 V119 H172"/>
<path class="w" d="M60,25 V0 H160 Q172,0 172,12 V119 H151 V25 Z"/>
<path class="l" d="M60,3 H159 Q169,3 169,13 V119"/><path class="l" d="M60,22 H148"/><path class="l" d="M154,28V119"/>
<rect class="w" x="130" y="28" width="19" height="82" rx="9" ry="16"/><path class="l" d="M135,36V102"/>
</g>
<path class="d" d="M204,2313H268"/><path class="d" d="M94,2327V2420"/><path class="d" d="M146,2352V2419"/><path class="d" d="M323,2375V2419"/><path class="ds" d="M282,2409V2419"/>
<path class="d" d="M158,2432H275"/><path class="d" d="M433,2313H517"/><path class="d" d="M371,2451H636"/><path class="d" d="M431,2475H634"/>
<path class="d" d="M791,2313H876"/><path class="d" d="M701,2325V2418"/><path class="d" d="M753,2350V2418"/><path class="ds" d="M886,2408V2418"/><path class="d" d="M928,2378V2418"/>
<path class="d" d="M766,2428H880"/><path class="d" d="M978,2451H1148"/><path class="d" d="M1038,2478H1148"/>
<text class="t" x="218" y="2307" textLength="40" lengthAdjust="spacingAndGlyphs">23¾"</text>
<text class="t" x="48" y="2380" textLength="41" lengthAdjust="spacingAndGlyphs">33½"</text>
<text class="t" x="100" y="2392" textLength="42" lengthAdjust="spacingAndGlyphs">24¾"</text>
<text class="t" x="327" y="2407" textLength="41" lengthAdjust="spacingAndGlyphs">16½"</text>
<text class="t" x="286" y="2422" textLength="35" lengthAdjust="spacingAndGlyphs">3½"</text>
<text class="t" x="196" y="2450" textLength="43" lengthAdjust="spacingAndGlyphs">41¼"</text>
<text class="t" x="462" y="2307" textLength="28" lengthAdjust="spacingAndGlyphs">30"</text>
<text class="t" x="483" y="2444" textLength="43" lengthAdjust="spacingAndGlyphs">96½"</text>
<text class="t" x="522" y="2470" textLength="43" lengthAdjust="spacingAndGlyphs">74¾"</text>
<text class="t" x="821" y="2307" textLength="29" lengthAdjust="spacingAndGlyphs">30"</text>
<text class="t" x="655" y="2377" textLength="42" lengthAdjust="spacingAndGlyphs">33½"</text>
<text class="t" x="706" y="2390" textLength="42" lengthAdjust="spacingAndGlyphs">24¾"</text>
<text class="t" x="890" y="2420" textLength="33" lengthAdjust="spacingAndGlyphs">3½"</text>
<text class="t" x="933" y="2405" textLength="41" lengthAdjust="spacingAndGlyphs">16½"</text>
<text class="t" x="802" y="2449" textLength="40" lengthAdjust="spacingAndGlyphs">41¼"</text>
<text class="t" x="1053" y="2444" textLength="26" lengthAdjust="spacingAndGlyphs">67"</text>
<text class="t" x="1077" y="2472" textLength="41" lengthAdjust="spacingAndGlyphs">41¼"</text>

<!-- ============ SECTION 7 CORNER / POUF ============ -->
<rect class="bar" x="2" y="2617" width="655" height="49"/><line class="bl" x1="2" y1="2666" x2="657" y2="2666"/>
<rect class="bar" x="677" y="2617" width="823" height="49"/><line class="bl" x1="677" y1="2666" x2="1500" y2="2666"/>
<text class="hb" x="80" y="2650" textLength="73" lengthAdjust="spacingAndGlyphs">Corner</text>
<text class="hb" x="381" y="2650" textLength="100" lengthAdjust="spacingAndGlyphs">105 x 105</text>
<text class="hb" x="684" y="2650" textLength="48" lengthAdjust="spacingAndGlyphs">Pouf</text>
<text class="hb" x="988" y="2650" textLength="86" lengthAdjust="spacingAndGlyphs">105 x 85</text>
<path class="cv" d="M80,2682 L89.5,2691.5 L99,2682"/>
<path class="cv" d="M685,2682 L694.5,2691.5 L704,2682"/>

<path class="w" d="M165,2754 V2783 H149 Q142,2783 142,2768 Q142,2754 149,2754 Z"/>
<path class="w" d="M165,2783 V2813 H149 Q142,2813 142,2798 Q142,2783 149,2783 Z"/>
<rect class="w" x="185" y="2729" width="66" height="52" rx="3"/>
<path class="w" d="M164,2780 L165,2734 Q166,2729 171,2729 H176 Q179,2730 180,2735 L185,2778"/>
<path class="l" d="M170,2778 L172,2732"/>
<path class="w" d="M165,2780 Q210,2769 256,2780 V2792 H165 Z"/><path class="l" d="M165,2782H256"/>
<rect class="w" x="165" y="2792" width="91" height="21"/><path class="l" d="M165,2794H256"/>
<use href="#foot" x="164" y="2813"/>
<g transform="translate(392,2729)">
<rect class="w" x="0" y="24" width="91" height="40"/>
<rect class="w" x="5" y="0" width="86" height="54" rx="3"/>
<path class="w" d="M76,54 L79,4 Q80,0 85,0 L91,1 V54 Z"/><path class="l" d="M82,54 L84,3"/>
<use href="#seat" transform="translate(0,0) scale(.91,1)"/>
<rect class="w" x="0" y="65" width="91" height="20"/><path class="l" d="M0,67H91"/>
<use href="#arm" x="91" y="24"/>
<path class="k" d="M17,85v10M77,85v10"/>
</g>
<g transform="translate(390,2896)">
<path class="w" d="M0,118 V0 H105 Q117,0 117,12 V118 Z"/>
<path class="l" d="M0,3 H104 Q114,3 114,13 V118"/>
<path class="l" d="M0,22 H96 V118"/><path class="l" d="M2,25 H93 V116"/>
<path class="l" d="M2,0V118"/>
<use href="#cush" transform="translate(2,25) scale(.91,1)"/>
<rect class="w" x="76" y="46" width="17" height="67" rx="8" ry="15"/><path class="l" d="M80,54V105"/>
<path class="dt" d="M-16,0H0M-16,118H0"/>
</g>
<path class="w" d="M748,2786 V2777 Q748,2768 762,2768 H830 Q844,2768 844,2777 V2786 Z"/><path class="l" d="M748,2783H844"/>
<rect class="w" x="748" y="2786" width="96" height="19"/>
<use href="#foot" x="750" y="2805"/>
<path class="w" d="M1000,2786 V2777 Q1000,2768 1014,2768 H1101 Q1115,2768 1115,2777 V2786 Z"/><path class="l" d="M1000,2783H1115"/>
<rect class="w" x="1000" y="2786" width="115" height="19"/>
<path class="k" d="M1017,2805v10M1098,2805v10"/>
<rect class="w" x="1000" y="2891" width="115" height="96" rx="3"/>
<path class="d" d="M185,2717H249"/><path class="d" d="M75,2729V2826"/><path class="d" d="M126,2754V2826"/><path class="ds" d="M260,2813V2824"/><path class="d" d="M304,2787V2826"/>
<path class="d" d="M139,2836H254"/><path class="d" d="M392,2717H477"/><path class="d" d="M390,2862H505"/>
<path class="d" d="M735,2768V2816"/><path class="ds" d="M848,2805V2815"/><path class="d" d="M746,2862H842"/><path class="d" d="M997,2862H1112"/>
<text class="t" x="196" y="2711" textLength="45" lengthAdjust="spacingAndGlyphs">23¾"</text>
<text class="t" x="27" y="2785" textLength="42" lengthAdjust="spacingAndGlyphs">33½"</text>
<text class="t" x="81" y="2797" textLength="41" lengthAdjust="spacingAndGlyphs">24¾"</text>
<text class="t" x="264" y="2826" textLength="35" lengthAdjust="spacingAndGlyphs">3½"</text>
<text class="t" x="306" y="2811" textLength="41" lengthAdjust="spacingAndGlyphs">16½"</text>
<text class="t" x="175" y="2856" textLength="42" lengthAdjust="spacingAndGlyphs">41¼"</text>
<text class="t" x="424" y="2711" textLength="24" lengthAdjust="spacingAndGlyphs">30"</text>
<text class="t" x="426" y="2856" textLength="41" lengthAdjust="spacingAndGlyphs">41¼"</text>
<text class="t" x="684" y="2801" textLength="43" lengthAdjust="spacingAndGlyphs">16½"</text>
<text class="t" x="851" y="2816" textLength="34" lengthAdjust="spacingAndGlyphs">3½"</text>
<text class="t" x="778" y="2856" textLength="43" lengthAdjust="spacingAndGlyphs">33½"</text>
<text class="t" x="1033" y="2856" textLength="44" lengthAdjust="spacingAndGlyphs">41¼"</text>

<!-- ============ SECTION 8 POUF / CUSHION ============ -->
<rect class="bar" x="2" y="3034" width="958" height="49"/><line class="bl" x1="2" y1="3083" x2="960" y2="3083"/>
<rect class="bar" x="978" y="3034" width="522" height="49"/><line class="bl" x1="978" y1="3083" x2="1500" y2="3083"/>
<text class="hb" x="80" y="3068" textLength="47" lengthAdjust="spacingAndGlyphs">Pouf</text>
<text class="hb" x="381" y="3068" textLength="88" lengthAdjust="spacingAndGlyphs">160 x 55</text>
<text class="hb" x="684" y="3068" textLength="86" lengthAdjust="spacingAndGlyphs">105 x 55</text>
<text class="hb" x="988" y="3068" textLength="89" lengthAdjust="spacingAndGlyphs">Cushion</text>
<path class="cv" d="M80,3099 L89.5,3108.5 L99,3099"/>
<path class="cv" d="M989,3103 L998.5,3112.5 L1008,3103"/>
<text class="hb" x="1029" y="3117" textLength="84" lengthAdjust="spacingAndGlyphs">50 x 50</text>

<path class="w" d="M146,3227 V3218 Q146,3209 158,3209 H196 Q208,3209 208,3218 V3227 Z"/><path class="l" d="M146,3224H208"/>
<rect class="w" x="146" y="3228" width="62" height="19"/>
<path class="w" d="M156,3247 V3253 H150 Q148,3253 148,3255 Q148,3257 150,3257 H205 Q207,3257 207,3255 Q207,3253 205,3253 H202 L204,3247 Z"/>
<path class="w" d="M389,3227 V3219 Q389,3209 405,3209 H553 Q569,3209 569,3219 V3227 Z"/><path class="l" d="M389,3224H569"/>
<rect class="w" x="389" y="3228" width="180" height="18"/>
<path class="k" d="M405,3246v11M552,3246v11"/>
<path class="w" d="M697,3230 V3222 Q697,3212 712,3212 H797 Q812,3212 812,3222 V3230 Z"/><path class="l" d="M697,3227H812"/>
<rect class="w" x="697" y="3231" width="115" height="19"/>
<path class="k" d="M713,3250v10M794,3250v10"/>
<path class="w" d="M1029,3194 Q1045,3188 1060,3192 Q1080,3186 1099,3188 L1103,3253 Q1070,3258 1036,3261 Z"/>
<path class="l" d="M1034,3197 L1039,3258"/>
<rect class="w" x="389" y="3335" width="180" height="62" rx="2"/>
<rect class="w" x="697" y="3336" width="115" height="62" rx="2"/>
<path class="w" d="M1036,3338 Q1068,3331 1100,3338 V3345 Q1068,3352 1036,3345 Z"/><path class="l" d="M1036,3341H1100"/>
<path class="d" d="M134,3209V3258"/><path class="ds" d="M212,3247V3257"/><path class="d" d="M145,3287H204"/>
<path class="d" d="M388,3301H567"/><path class="d" d="M696,3301H809"/><path class="d" d="M1122,3188V3252"/><path class="d" d="M1036,3301H1100"/>
<text class="t" x="83" y="3242" textLength="41" lengthAdjust="spacingAndGlyphs">16½"</text>
<text class="t" x="215" y="3256" textLength="36" lengthAdjust="spacingAndGlyphs">3½"</text>
<text class="t" x="155" y="3280" textLength="43" lengthAdjust="spacingAndGlyphs">21¾"</text>
<text class="t" x="467" y="3294" textLength="26" lengthAdjust="spacingAndGlyphs">63"</text>
<text class="t" x="735" y="3294" textLength="40" lengthAdjust="spacingAndGlyphs">41¼"</text>
<text class="t" x="1127" y="3226" textLength="42" lengthAdjust="spacingAndGlyphs">19¾"</text>
<text class="t" x="1051" y="3294" textLength="43" lengthAdjust="spacingAndGlyphs">19¾"</text>

<!-- ============ FOOTER ============ -->
<text x="18" y="3463" font-family="Liberation Sans, sans-serif" font-size="69" fill="#d2232a" textLength="139" lengthAdjust="spacingAndGlyphs">room</text>
<text x="18" y="3497" font-family="Liberation Sans, sans-serif" font-size="48" fill="#d2232a" textLength="139" lengthAdjust="spacingAndGlyphs">service</text>
<line x1="168" y1="3428" x2="168" y2="3498" stroke="#666" stroke-width="1.5"/>
<text x="182" y="3498" font-family="Liberation Sans, sans-serif" font-size="97" fill="#777" textLength="152" lengthAdjust="spacingAndGlyphs">360</text>
<circle cx="341" cy="3432" r="3.5" fill="none" stroke="#777" stroke-width="1.5"/>
<text x="18" y="3528" font-family="Liberation Sans, sans-serif" font-size="17" fill="#666" textLength="329" lengthAdjust="spacing">furniture <tspan fill="#d2232a">·</tspan> design <tspan fill="#d2232a">·</tspan> accessories</text>
<text class="f" x="390" y="3527" textLength="188" lengthAdjust="spacingAndGlyphs">© room service 360, llc</text>
<path d="M630,3529 L625.2,3520 A6,6 0 1 1 634.8,3520 Z" fill="#333"/><circle cx="630" cy="3517" r="2" fill="#fff"/>
<text class="f" x="651" y="3527" textLength="341" lengthAdjust="spacingAndGlyphs">2031 byberry rd, philadelphia, pa 19116</text>
<path d="M1046,3512 L1050,3512 L1049,3518 Q1047,3520 1047,3522 Q1048,3524 1050,3523 L1052,3525 Q1046,3530 1043,3525 Q1041,3520 1046,3512 Z" fill="#333"/>
<text class="f" x="1064" y="3527" textLength="111" lengthAdjust="spacingAndGlyphs">215.676.6100</text>
<rect x="1226" y="3515" width="13" height="12" fill="#333"/><path d="M1228,3518 L1232.5,3523 L1237,3518" fill="none" stroke="#fff" stroke-width="1.4"/>
<text class="f" x="1254" y="3525" textLength="227" lengthAdjust="spacingAndGlyphs">sales@roomservice360.com</text>
</svg>
</body></html>
